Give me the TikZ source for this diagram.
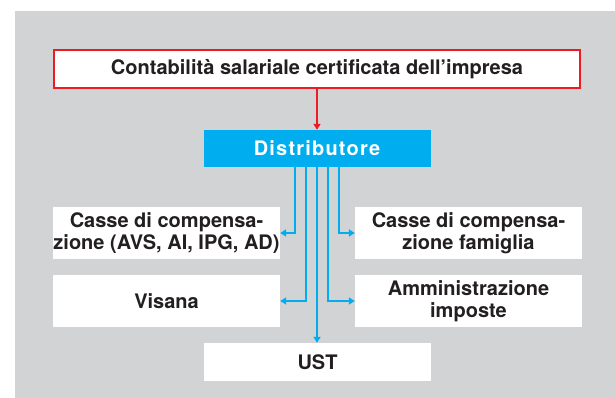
\documentclass[tikz,border=0pt]{standalone}
\usepackage{fontspec}
\setmainfont{TeX Gyre Heros}
\usetikzlibrary{arrows.meta}
\definecolor{bggray}{HTML}{D1D3D4}
\definecolor{cyanline}{HTML}{00AEEF}
\definecolor{redline}{HTML}{ED1C24}
\definecolor{textdark}{HTML}{231F20}
\begin{document}
\begin{tikzpicture}[x=1pt,y=-1pt,
  box/.style={fill=white, draw=none, minimum width=227pt, minimum height=52pt,
    inner sep=0pt, align=center, font=\fontsize{20}{22.5}\selectfont\bfseries, text=textdark},
  feed/.style={draw=cyanline, line width=2pt, -{Triangle[length=6pt,width=7pt]}},
  srcarrow/.style={draw=redline, line width=2pt, -{Triangle[length=6pt,width=7pt]}}]
\useasboundingbox (0,0) rectangle (615,398);
\fill[bggray] (15,11) rectangle (615,398);
\node[box, draw=redline, line width=2pt, minimum width=526pt, minimum height=38pt] (src) at (317,69) {Contabilità salariale certificata dell’impresa};
\node[box, fill=cyanline, text=white, minimum height=37pt] (dist) at (317,148.5) {\addfontfeatures{LetterSpace=6}Distributore};
\node[box] (cas1) at (166.5,233) {Casse di compensa-\\zione (AVS, AI, IPG, AD)};
\node[box] (vis) at (166.5,301) {Visana};
\node[box] (cas2) at (468.5,233) {Casse di compensa-\\zione famiglia};
\node[box] (amm) at (468.5,301) {Amministrazione\\imposte};
\node[box, minimum height=38pt] (ust) at (317.5,362) {UST};
\draw[srcarrow] (src.south) -- (src.south |- dist.north);
\draw[feed] ([xshift=-22pt]dist.south) |- (cas1.east);
\draw[feed] ([xshift=-11pt]dist.south) |- (vis.east);
\draw[feed] (dist.south) -- (dist.south |- ust.north);
\draw[feed] ([xshift=11pt]dist.south) |- (amm.west);
\draw[feed] ([xshift=22pt]dist.south) |- (cas2.west);
\end{tikzpicture}
\end{document}
